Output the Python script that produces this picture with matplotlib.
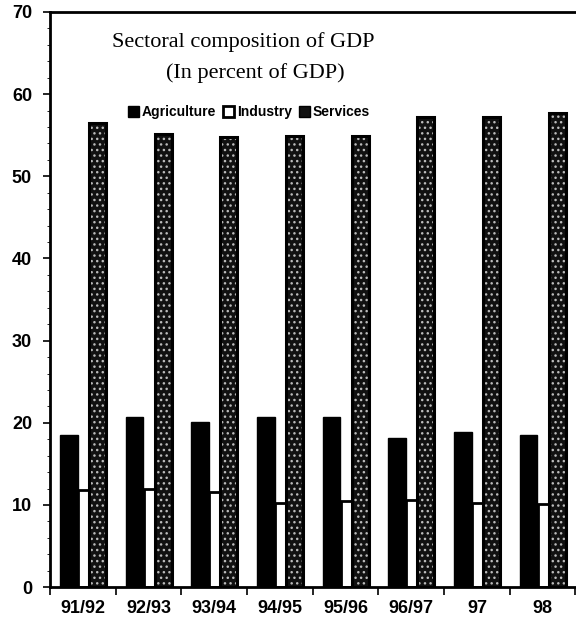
import matplotlib
matplotlib.use("Agg")
import matplotlib.pyplot as plt
import numpy as np
from matplotlib.patches import Patch

periods = ["91/92", "92/93", "93/94", "94/95", "95/96", "96/97", "97", "98"]
agriculture = [18.5, 20.7, 20.1, 20.7, 20.7, 18.2, 18.9, 18.5]
industry = [11.8, 12.0, 11.6, 10.3, 10.5, 10.6, 10.3, 10.1]
services = [56.5, 55.2, 54.8, 54.9, 54.9, 57.2, 57.2, 57.7]

yticks = [0, 10, 20, 30, 40, 50, 60, 70]

fig = plt.figure(figsize=(5.76, 6.3), dpi=100)
ax = fig.add_axes([0.087, 0.068, 0.912, 0.913])

x = np.arange(len(periods))

# Agriculture: solid black
ax.bar(x - 0.35, agriculture, width=0.27, align="edge",
       color="black", edgecolor="black", linewidth=1, zorder=2)
# Industry: white with black outline (partly tucked behind services)
ax.bar(x - 0.076, industry, width=0.22, align="edge",
       color="white", edgecolor="black", linewidth=2, zorder=2)
# Services: near-black fill with a fine white dot stipple
ax.bar(x + 0.09, services, width=0.26, align="edge",
       color="#111111", edgecolor="#bbbbbb", hatch="...", linewidth=0, zorder=3)
ax.bar(x + 0.09, services, width=0.26, align="edge",
       fill=False, edgecolor="black", linewidth=2.2, zorder=4)

ax.set_xlim(-0.5, len(periods) - 0.5)
ax.set_ylim(0, 70)

ax.set_yticks(yticks)
ax.set_yticklabels([str(v) for v in yticks], fontsize=13, fontweight="bold",
                   family="Liberation Sans")
ax.set_yticks(np.arange(0, 71, 2), minor=True)
ax.tick_params(axis="y", which="major", length=5, width=1.2, direction="out", pad=8)
ax.tick_params(axis="y", which="minor", length=2, width=0.6, direction="out")

# category boundaries carry the tick marks, labels sit at the centres
ax.set_xticks(np.arange(-0.5, len(periods), 1.0))
ax.set_xticklabels([])
ax.set_xticks(x, minor=True)
ax.set_xticklabels(periods, minor=True, fontsize=13, fontweight="bold",
                   family="Liberation Sans")
ax.tick_params(axis="x", which="major", length=6, width=1.2, direction="out")
ax.tick_params(axis="x", which="minor", length=0, pad=9)

for side in ["left", "bottom", "top"]:
    ax.spines[side].set_linewidth(2)
ax.spines["right"].set_visible(False)

ax.text(0.368, 0.939, "Sectoral composition of GDP", transform=ax.transAxes,
        ha="center", va="baseline", fontsize=16, family="Liberation Serif")
ax.text(0.39, 0.885, "(In percent of GDP)", transform=ax.transAxes,
        ha="center", va="baseline", fontsize=16, family="Liberation Serif")

handles = [
    Patch(facecolor="black", edgecolor="black"),
    Patch(facecolor="white", edgecolor="black", linewidth=2),
    Patch(facecolor="#111111", edgecolor="black"),
]
leg = ax.legend(handles, ["Agriculture", "Industry", "Services"], ncol=3,
                loc="center", bbox_to_anchor=(0.379, 0.826), frameon=False,
                handlelength=0.8, handleheight=0.8, handletextpad=0.2,
                columnspacing=0.5, borderpad=0,
                prop={"family": "Liberation Sans", "weight": "bold", "size": 10})

fig.savefig("out.png", dpi=100)
